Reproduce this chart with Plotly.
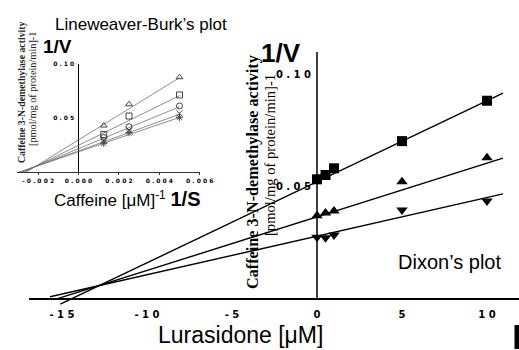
import plotly.graph_objects as go

W, H = 519, 350

# ---- Dixon plot data (Lurasidone, µM vs 1/V) ----
lurasidone = [0, 0.5, 1, 5, 10]
inv_v_square = [0.0533, 0.0552, 0.0582, 0.0703, 0.0883]
inv_v_up = [0.0371, 0.0383, 0.0392, 0.0522, 0.0629]
inv_v_down = [0.0275, 0.0273, 0.0285, 0.0396, 0.0436]

# fitted lines: intercept, slope, drawn x-extent
dixon_intercepts = [0.0522, 0.0366, 0.0280]
dixon_slopes = [0.00361, 0.00239, 0.00172]
dixon_x_start = [-15.1, -15.4, -15.7]
dixon_x_end = 10.94

dixon_xticks = [-15, -10, -5, 0, 5, 10]
dixon_yticks = [0.05, 0.10]
dixon_yticklabels = ["0.05", "0.10"]

# ---- Lineweaver-Burk data (1/[Caffeine] vs 1/V) ----
inv_s = [0.00125, 0.0025, 0.005]
lb_triangle = [0.0433, 0.0630, 0.0880]
lb_square = [0.0350, 0.0521, 0.0716]
lb_circle = [0.0322, 0.0422, 0.0614]
lb_cross = [0.0298, 0.0390, 0.0546]
lb_star = [0.0269, 0.0367, 0.0509]

lb_intercepts = [0.0300, 0.0250, 0.0219, 0.0198, 0.0189]
lb_slopes = [11.52, 9.19, 7.76, 6.78, 6.39]
lb_x_start = -0.00306
lb_x_end = 0.005

lb_xticks = [-0.002, 0.0, 0.002, 0.004, 0.006]
lb_xticklabels = ["-0.002", "0.000", "0.002", "0.004", "0.006"]
lb_yticks = [0.05, 0.10]
lb_yticklabels = ["0.05", "0.10"]


def spaced(s):
    # letter-spaced tick labels
    return " ".join(s)


def px(x):
    return x / W


def py(y):
    return 1 - y / H


fig = go.Figure()

# Dixon regression lines
for b, m, x0 in zip(dixon_intercepts, dixon_slopes, dixon_x_start):
    xs = [x0, dixon_x_end]
    fig.add_trace(go.Scatter(x=xs, y=[b + m * v for v in xs], mode="lines",
                             line=dict(color="black", width=1.4),
                             xaxis="x", yaxis="y", showlegend=False, hoverinfo="skip"))

for ys, sym, size in [(inv_v_square, "square", 10),
                      (inv_v_up, "triangle-up", 10),
                      (inv_v_down, "triangle-down", 10)]:
    fig.add_trace(go.Scatter(x=lurasidone, y=ys, mode="markers",
                             marker=dict(symbol=sym, size=size, color="black"),
                             xaxis="x", yaxis="y", showlegend=False, cliponaxis=False))

# Lineweaver-Burk lines
for b, m in zip(lb_intercepts, lb_slopes):
    xs = [lb_x_start, lb_x_end]
    fig.add_trace(go.Scatter(x=xs, y=[b + m * v for v in xs], mode="lines",
                             line=dict(color="#707070", width=0.8),
                             xaxis="x2", yaxis="y2", showlegend=False, hoverinfo="skip"))

for ys, sym in [(lb_triangle, "triangle-up-open"), (lb_square, "square-open"),
                (lb_circle, "circle-open"), (lb_cross, "x-thin-open"),
                (lb_star, "asterisk-open")]:
    fig.add_trace(go.Scatter(x=inv_s, y=ys, mode="markers",
                             marker=dict(symbol=sym, size=6, color="#444444",
                                         line=dict(color="#444444", width=1)),
                             xaxis="x2", yaxis="y2", showlegend=False, cliponaxis=False))

tick_font_main = dict(family="DejaVu Sans", size=10, color="black", weight="bold")
tick_font_inset = dict(family="DejaVu Sans", size=6, color="black", weight="bold")

x_main_dom = [px(29), 1.0]
x_main_rng = [(29 - 317) / 17, (519 - 317) / 17]
y_main_dom = [py(305.7), py(52)]
y_main_rng = [-0.003, 0.11]
x_zero_paper = px(317)

fig.update_layout(
    width=W, height=H, margin=dict(l=0, r=0, t=0, b=0, autoexpand=False),
    showlegend=False,
    paper_bgcolor="white", plot_bgcolor="rgba(0,0,0,0)",
    xaxis=dict(domain=x_main_dom, range=x_main_rng, anchor="y", automargin=False,
               showgrid=False, zeroline=False, showline=False,
               tickvals=dixon_xticks, ticktext=[spaced(str(v)) for v in dixon_xticks],
               tickfont=tick_font_main, ticks="", ticklabelstandoff=1),
    yaxis=dict(domain=y_main_dom, range=y_main_rng, anchor="free", position=x_zero_paper,
               automargin=False,
               showgrid=False, zeroline=True, zerolinecolor="black", zerolinewidth=1.5,
               showline=False, tickvals=dixon_yticks,
               ticktext=[spaced(t) for t in dixon_yticklabels],
               tickfont=tick_font_main, ticks="", ticklabelstandoff=6),
    xaxis2=dict(domain=[px(16.7), px(199.7)], range=[lb_x_start, 0.006], anchor="y2",
                automargin=False,
                showgrid=False, zeroline=True, zerolinecolor="black", zerolinewidth=1,
                showline=True, linecolor="#333333", linewidth=1,
                tickvals=lb_xticks, ticktext=[spaced(t) for t in lb_xticklabels],
                tickfont=tick_font_inset, ticks="outside", ticklen=2, tickcolor="#333333"),
    yaxis2=dict(domain=[py(172.3), py(64.3)], range=[0, 0.1], anchor="free",
                position=px(78.3), automargin=False,
                showgrid=False, zeroline=False, showline=False,
                tickvals=lb_yticks, ticktext=[spaced(t) for t in lb_yticklabels],
                tickfont=tick_font_inset, ticks="", ticklabelstandoff=4),
)

# vertical axis of the Dixon plot at x = 0
fig.add_shape(type="line", xref="x", yref="y", x0=0, x1=0, y0=0, y1=0.11,
              line=dict(color="black", width=1.5))

# clipped glyph at bottom-right edge
fig.add_shape(type="rect", xref="paper", yref="paper",
              x0=px(514.5), x1=px(519), y0=py(349), y1=py(325),
              fillcolor="black", line=dict(width=0))

sans = "Liberation Sans, Arial, sans-serif"
serif = "Liberation Serif, Times New Roman, serif"


def note(text, x, y, size, family=sans, angle=0, xanchor="center", color="black"):
    fig.add_annotation(text=text, x=px(x), y=py(y), xref="paper", yref="paper",
                       showarrow=False, xanchor=xanchor, yanchor="middle",
                       textangle=angle, font=dict(family=family, size=size, color=color))


note("Lineweaver-Burk’s plot", 53, 24, 17, xanchor="left")
note("<b>1/V</b>", 57, 46, 19)
note("<b>1/V</b>", 281, 53, 26)
note("<b>Caffeine 3-N-demethylase activity</b>", 21, 92, 9.8, family=serif, angle=-90, color="#222222")
note("[pmol/mg of protein/min]-1", 33, 89, 10.3, family=serif, angle=-90, color="#222222")
note("Caffeine [μM]<sup>-1</sup> <span style='font-size:20px'><b>1/S</b></span>",
     52, 199, 17, xanchor="left")
note("<b>Caffeine 3-N-demethylase activity</b>", 253, 172, 16.2, family=serif, angle=-90)
note("[pmol/mg of protein/min]-1", 270, 155, 14.6, family=serif, angle=-90)
note("Dixon’s plot", 449, 262, 20)
note("Lurasidone [μM]", 240, 335, 23)

fig.write_html("out.html")
